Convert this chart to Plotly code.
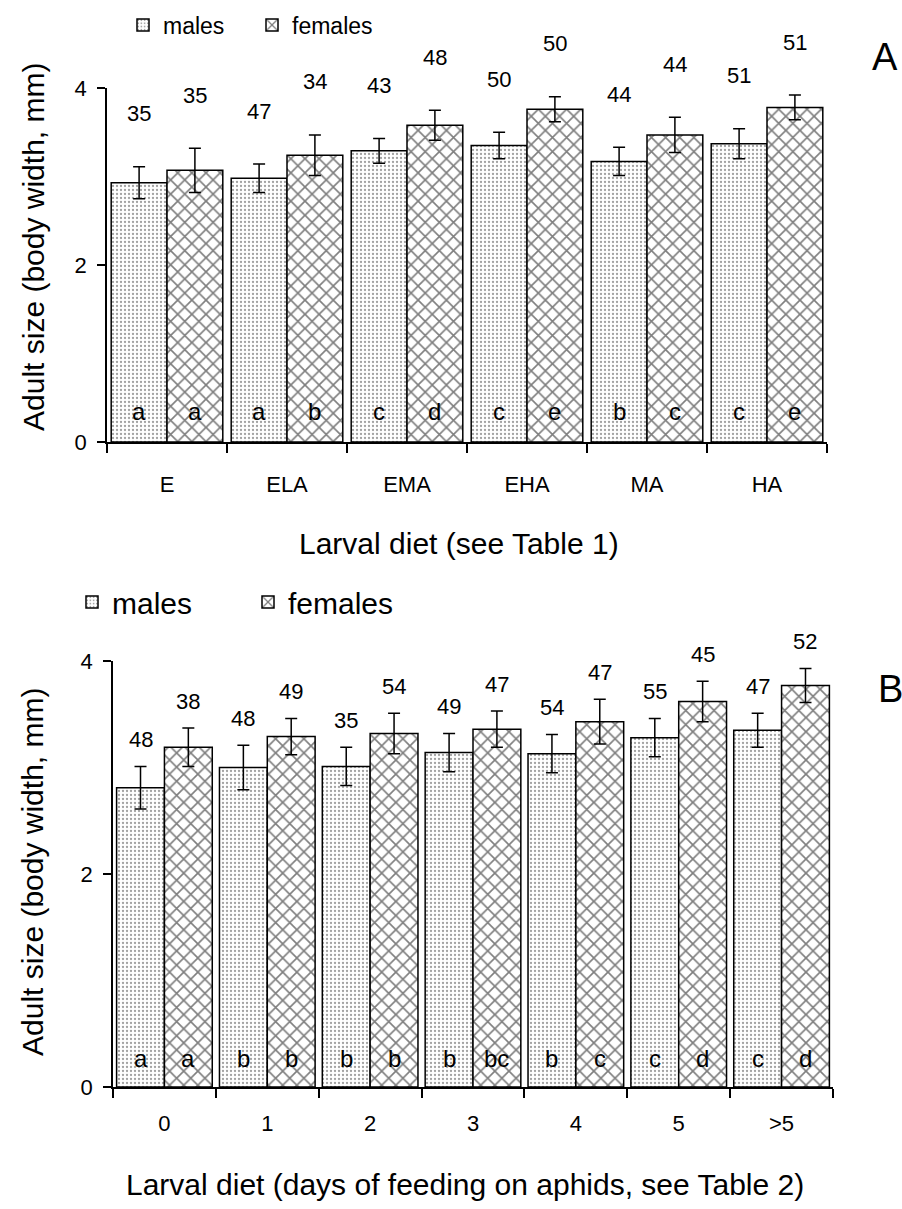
import plotly.graph_objects as go

# ---------------- data ----------------
diet_a = ["E", "ELA", "EMA", "EHA", "MA", "HA"]
males_a = [2.93, 2.98, 3.29, 3.35, 3.17, 3.37]
males_a_se = [0.18, 0.16, 0.14, 0.15, 0.16, 0.17]
females_a = [3.07, 3.24, 3.58, 3.76, 3.47, 3.78]
females_a_se = [0.25, 0.23, 0.17, 0.14, 0.20, 0.14]
males_a_n = [35, 47, 43, 50, 44, 51]
females_a_n = [35, 34, 48, 50, 44, 51]
males_a_grp = ["a", "a", "c", "c", "b", "c"]
females_a_grp = ["a", "b", "d", "e", "c", "e"]

days_b = ["0", "1", "2", "3", "4", "5", ">5"]
males_b = [2.81, 3.00, 3.01, 3.14, 3.13, 3.28, 3.35]
males_b_se = [0.20, 0.21, 0.18, 0.18, 0.18, 0.18, 0.16]
females_b = [3.19, 3.29, 3.32, 3.36, 3.43, 3.62, 3.77]
females_b_se = [0.18, 0.17, 0.19, 0.17, 0.21, 0.19, 0.16]
males_b_n = [48, 48, 35, 49, 54, 55, 47]
females_b_n = [38, 49, 54, 47, 47, 45, 52]
males_b_grp = ["a", "b", "b", "b", "b", "c", "c"]
females_b_grp = ["a", "b", "b", "bc", "c", "d", "d"]

y_ticks = [0, 2, 4]

# ---------------- layout constants ----------------
W, H = 902, 1209
T_M = 70  # top margin (room for the legend so it does not push margins)
FONT = "Liberation Sans, Arial, sans-serif"
BARGAP = 0.07

ax_a = dict(x0=107, x1=827, top=88, bottom=442)
ax_b = dict(x0=113, x1=833, top=661, bottom=1087)


def px_x(p):
    return p / W


def px_y(p):
    return 1 - (p - T_M) / (H - T_M)


male_marker = dict(color="white", line=dict(color="black", width=1.5),
                   pattern=dict(shape=".", fgcolor="#444444", bgcolor="white",
                                size=4, solidity=0.26, fillmode="overlay"))
female_marker = dict(color="white", line=dict(color="black", width=1.5),
                     pattern=dict(shape="x", fgcolor="black", bgcolor="white",
                                  size=10, solidity=0.3, fillmode="overlay"))
err_style = dict(type="data", color="black", thickness=1.5, width=6, visible=True)

fig = go.Figure()

fig.add_trace(go.Bar(x=diet_a, y=males_a, name="males", marker=male_marker,
                     error_y=dict(array=males_a_se, **err_style),
                     xaxis="x", yaxis="y", legend="legend"))
fig.add_trace(go.Bar(x=diet_a, y=females_a, name="females", marker=female_marker,
                     error_y=dict(array=females_a_se, **err_style),
                     xaxis="x", yaxis="y", legend="legend"))
fig.add_trace(go.Bar(x=days_b, y=males_b, name="males", marker=male_marker,
                     error_y=dict(array=males_b_se, **err_style),
                     xaxis="x2", yaxis="y2", legend="legend2"))
fig.add_trace(go.Bar(x=days_b, y=females_b, name="females", marker=female_marker,
                     error_y=dict(array=females_b_se, **err_style),
                     xaxis="x2", yaxis="y2", legend="legend2"))

annotations = []


def add_labels(cats, m, mse, f, fse, mn, fn, mg, fg, ax, xref, yref, nshift, grp_y):
    cat_w = (ax["x1"] - ax["x0"]) / len(cats)
    bar_w = cat_w * (1 - BARGAP) / 2
    for i, c in enumerate(cats):
        for off, val, se, n, g in ((-bar_w / 2, m[i], mse[i], mn[i], mg[i]),
                                   (bar_w / 2, f[i], fse[i], fn[i], fg[i])):
            annotations.append(dict(x=i, y=val + se, xref=xref, yref=yref,
                                    text=str(n), showarrow=False, xshift=off,
                                    yshift=nshift, yanchor="middle",
                                    font=dict(size=22, family=FONT, color="black")))
            annotations.append(dict(x=i, y=grp_y, xref=xref, yref=yref,
                                    text=g, showarrow=False, xshift=off,
                                    yanchor="middle",
                                    font=dict(size=24, family=FONT, color="black")))


add_labels(diet_a, males_a, males_a_se, females_a, females_a_se, males_a_n,
           females_a_n, males_a_grp, females_a_grp, ax_a, "x", "y", 53, 0.34)
add_labels(days_b, males_b, males_b_se, females_b, females_b_se, males_b_n,
           females_b_n, males_b_grp, females_b_grp, ax_b, "x2", "y2", 27, 0.27)

title_font = dict(size=30, family=FONT, color="black")
annotations += [
    dict(x=px_x(33), y=px_y(247), xref="paper", yref="paper", text="Adult size (body width, mm)",
         textangle=-90, showarrow=False, font=title_font, xanchor="center", yanchor="middle"),
    dict(x=px_x(33), y=px_y(872), xref="paper", yref="paper", text="Adult size (body width, mm)",
         textangle=-90, showarrow=False, font=title_font, xanchor="center", yanchor="middle"),
    dict(x=px_x(459), y=px_y(543), xref="paper", yref="paper", text="Larval diet (see Table 1)",
         showarrow=False, font=title_font, xanchor="center", yanchor="middle"),
    dict(x=px_x(465), y=px_y(1184), xref="paper", yref="paper",
         text="Larval diet (days of feeding on aphids, see Table 2)",
         showarrow=False, font=title_font, xanchor="center", yanchor="middle"),
    dict(x=px_x(885), y=px_y(57), xref="paper", yref="paper", text="A",
         showarrow=False, font=dict(size=38, family=FONT, color="black"),
         xanchor="center", yanchor="middle"),
    dict(x=px_x(890), y=px_y(689), xref="paper", yref="paper", text="B",
         showarrow=False, font=dict(size=38, family=FONT, color="black"),
         xanchor="center", yanchor="middle"),
]

xaxis_common = dict(type="category", showline=True, linecolor="black", linewidth=1.5,
                    ticks="outside", tickson="boundaries", ticklen=9, tickwidth=1.5,
                    tickcolor="black", showgrid=False, zeroline=False, fixedrange=True,
                    automargin=False,
                    tickfont=dict(size=22, family=FONT, color="black"))
yaxis_common = dict(range=[0, 4], tickvals=y_ticks, showline=True, linecolor="black",
                    linewidth=1.5, ticks="outside", ticklen=8, tickwidth=1.5,
                    tickcolor="black", showgrid=False, zeroline=False, automargin=False,
                    tickfont=dict(size=22, family=FONT, color="black"))

fig.update_layout(
    width=W, height=H,
    margin=dict(l=0, r=0, t=T_M, b=0, autoexpand=False),
    paper_bgcolor="white", plot_bgcolor="white",
    barmode="group", bargap=BARGAP, bargroupgap=0,
    font=dict(family=FONT, color="black"),
    xaxis=dict(domain=[px_x(ax_a["x0"]), px_x(ax_a["x1"])], anchor="y",
               ticklabelstandoff=22, **xaxis_common),
    yaxis=dict(domain=[px_y(ax_a["bottom"]), px_y(ax_a["top"])], anchor="x",
               ticklabelstandoff=6, **yaxis_common),
    xaxis2=dict(domain=[px_x(ax_b["x0"]), px_x(ax_b["x1"])], anchor="y2",
                ticklabelstandoff=16, **xaxis_common),
    yaxis2=dict(domain=[px_y(ax_b["bottom"]), px_y(ax_b["top"])], anchor="x2",
                ticklabelstandoff=6, **yaxis_common),
    legend=dict(orientation="h", x=px_x(123), y=px_y(25), xanchor="left", yanchor="middle",
                font=dict(size=23, family=FONT, color="black"), bgcolor="rgba(0,0,0,0)",
                entrywidth=84, entrywidthmode="pixels"),
    legend2=dict(orientation="h", x=px_x(72), y=px_y(602), xanchor="left", yanchor="middle",
                 font=dict(size=30, family=FONT, color="black"), bgcolor="rgba(0,0,0,0)",
                 entrywidth=131, entrywidthmode="pixels"),
    annotations=annotations,
    showlegend=True,
)

fig.write_html("out.html")
